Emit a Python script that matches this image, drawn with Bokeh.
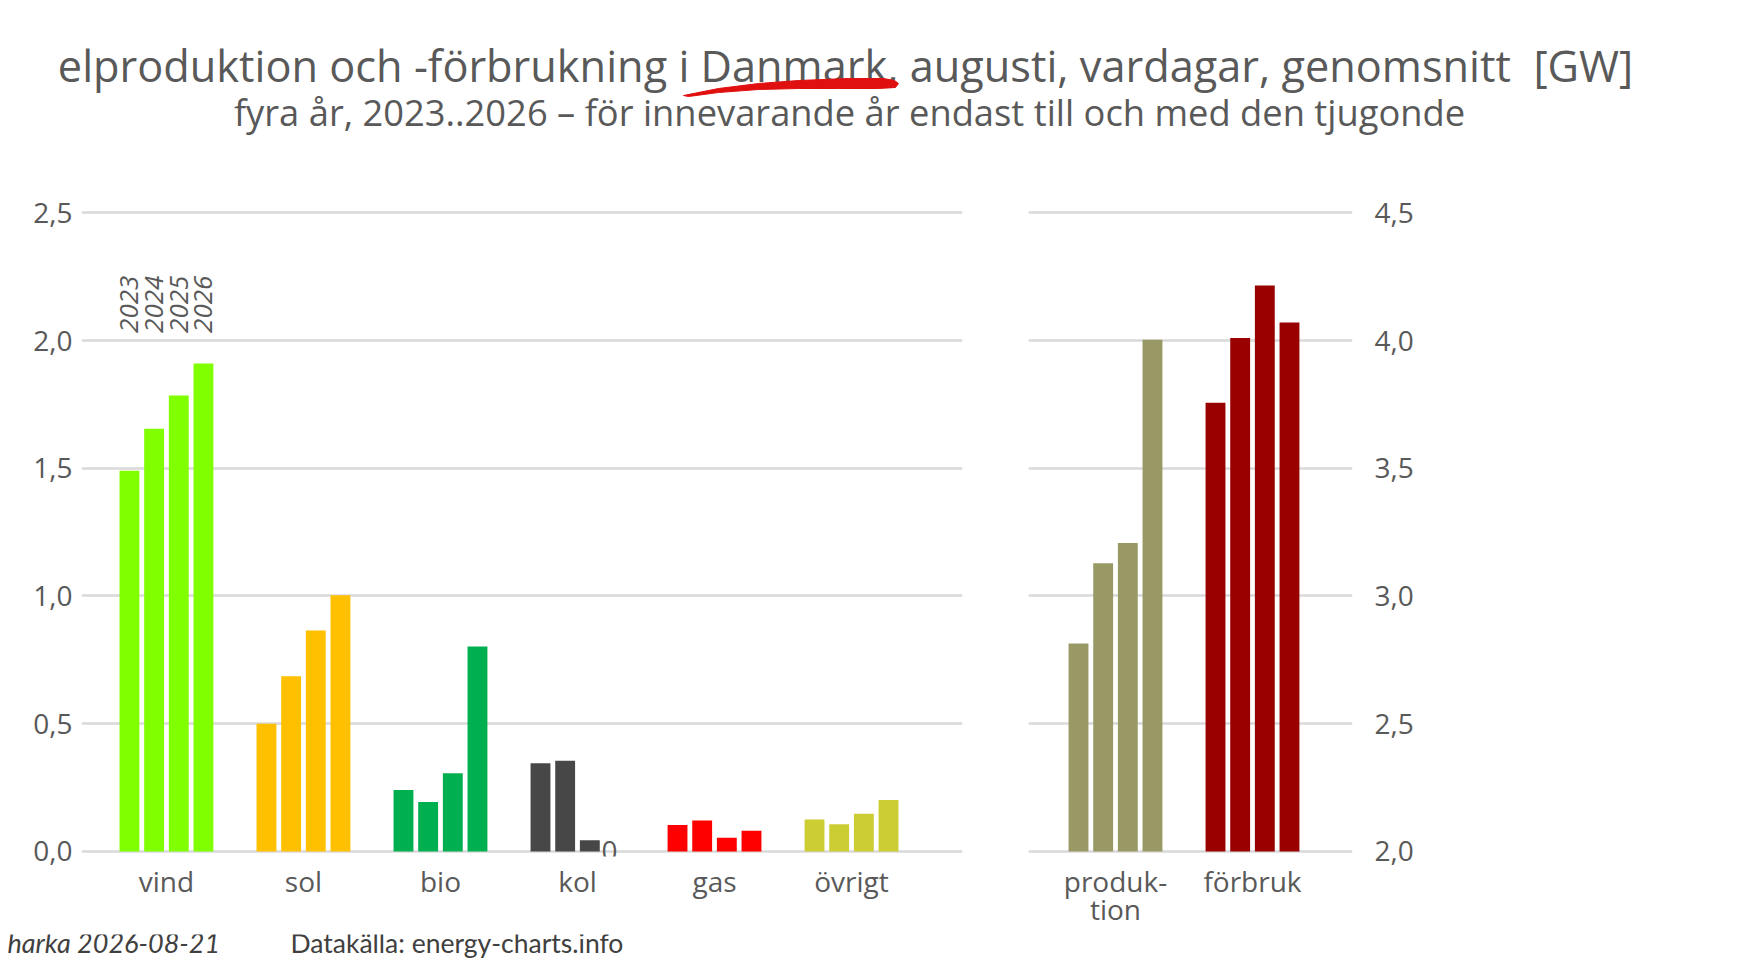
import math
from bokeh.plotting import figure
from bokeh.layouts import column, row
from bokeh.models import Range1d, FixedTicker, ColumnDataSource
from bokeh.embed import file_html
from bokeh.resources import INLINE

# ---------------- data ----------------
years = ["2023", "2024", "2025", "2026"]
sources = ["vind", "sol", "bio", "kol", "gas", "övrigt"]
vind = [1.490, 1.655, 1.785, 1.910]
sol = [0.500, 0.686, 0.865, 1.003]
bio = [0.240, 0.193, 0.306, 0.802]
kol = [0.345, 0.355, 0.044, 0.0]
gas = [0.103, 0.121, 0.053, 0.081]
ovrigt = [0.125, 0.106, 0.147, 0.201]
source_values = [vind, sol, bio, kol, gas, ovrigt]
source_colors = ["#80ff00", "#ffc000", "#00b050", "#474747", "#ff0000", "#cccc33"]

total_cats = ["produk-\ntion", "förbruk"]
produktion = [2.814, 3.128, 3.207, 4.003]
forbruk = [3.756, 4.010, 4.215, 4.071]
total_values = [produktion, forbruk]
total_colors = ["#999966", "#990000"]

left_ticks = [0.0, 0.5, 1.0, 1.5, 2.0, 2.5]
left_tick_labels = ["0,0", "0,5", "1,0", "1,5", "2,0", "2,5"]
right_ticks = [2.0, 2.5, 3.0, 3.5, 4.0, 4.5]
right_tick_labels = ["2,0", "2,5", "3,0", "3,5", "4,0", "4,5"]

title_text = "elproduktion och -förbrukning i Danmark, augusti, vardagar, genomsnitt\u00a0 [GW]"
subtitle_text = "fyra år, 2023..2026 – för innevarande år endast till och med den tjugonde"
footer_left = "harka 2026-08-21"
footer_right = "Datakälla: energy-charts.info"

# ---------------- style ----------------
TXT = "#595959"
GRID = "#d9d9d9"
FONT = "Open Sans"
FFONT = "Lato"
STEP = 0.18
BW = 0.145
offsets = [(j - 1.5) * STEP for j in range(len(years))]


def style_fig(p):
    p.outline_line_color = None
    p.background_fill_color = "white"
    p.border_fill_color = "white"


def style_axes(p):
    for ax in p.axis:
        ax.axis_line_color = None
        ax.major_tick_line_color = None
        ax.minor_tick_line_color = None
        ax.major_tick_in = 0
        ax.major_tick_out = 0
        ax.minor_tick_in = 0
        ax.minor_tick_out = 0
        ax.major_label_text_font = FONT
        ax.major_label_text_font_size = "28px"
        ax.major_label_text_color = TXT


TH = 140
MB_TOP = 57
FRAME_H = 659
MB_BOT = 78
ROW_H = MB_TOP + FRAME_H + MB_BOT
TW = 1734
FH = 35

# ---------------- left panel ----------------
pl = figure(width=992, height=ROW_H, x_range=Range1d(-0.62, 5.81), y_range=Range1d(-0.02, 2.56),
            min_border_left=81, min_border_right=30, min_border_top=MB_TOP, min_border_bottom=MB_BOT,
            output_backend="svg", toolbar_location=None, title=None)
style_fig(pl)
style_axes(pl)
pl.yaxis.ticker = FixedTicker(ticks=left_ticks)
pl.yaxis.major_label_overrides = {t: s for t, s in zip(left_ticks, left_tick_labels)}
pl.yaxis.major_label_standoff = 9
pl.xaxis.ticker = FixedTicker(ticks=list(range(len(sources))))
pl.xaxis.major_label_overrides = {i: s for i, s in enumerate(sources)}
pl.xaxis.major_label_standoff = 5
pl.xgrid.visible = False
pl.ygrid.ticker = FixedTicker(ticks=left_ticks)
pl.ygrid.grid_line_color = GRID
pl.ygrid.grid_line_width = 2.5

zx, zy = [], []
for i, (vals, col) in enumerate(zip(source_values, source_colors)):
    xs = [i + o for o in offsets]
    src = ColumnDataSource(dict(x=xs, top=vals))
    pl.vbar(x="x", top="top", bottom=0, width=BW, fill_color=col, line_color=None, source=src)
    for xx, v in zip(xs, vals):
        if v == 0:
            zx.append(xx)
            zy.append(v)

pl.text(x=zx, y=zy, text=["0"] * len(zx), text_align="center", text_baseline="middle",
        text_font={"value": FONT}, text_font_size="28px", text_color=TXT, x_offset=-5)

pl.text(x=[o for o in offsets], y=[left_ticks[4] + 0.03] * len(years), text=years,
        angle=math.pi / 2, text_align="left", text_baseline="middle",
        text_font={"value": FONT}, text_font_style="italic", text_font_size="26px",
        text_color=TXT)

# ---------------- right panel ----------------
pr = figure(width=742, height=ROW_H, x_range=Range1d(-0.635, 1.73), y_range=Range1d(1.98, 4.56),
            y_axis_location="right",
            min_border_left=36, min_border_right=382, min_border_top=MB_TOP, min_border_bottom=MB_BOT,
            output_backend="svg", toolbar_location=None, title=None)
style_fig(pr)
style_axes(pr)
pr.yaxis.ticker = FixedTicker(ticks=right_ticks)
pr.yaxis.major_label_overrides = {t: s for t, s in zip(right_ticks, right_tick_labels)}
pr.yaxis.major_label_standoff = 22
pr.yaxis.major_label_text_align = "left"
pr.xaxis.ticker = FixedTicker(ticks=list(range(len(total_cats))))
pr.xaxis.major_label_overrides = {i: s for i, s in enumerate(total_cats)}
pr.xaxis.major_label_standoff = 5
pr.xaxis.major_label_text_line_height = 0.76
pr.xgrid.visible = False
pr.ygrid.ticker = FixedTicker(ticks=right_ticks)
pr.ygrid.grid_line_color = GRID
pr.ygrid.grid_line_width = 2.5

for i, (vals, col) in enumerate(zip(total_values, total_colors)):
    xs = [i + o for o in offsets]
    src = ColumnDataSource(dict(x=xs, top=vals))
    pr.vbar(x="x", top="top", bottom=right_ticks[0], width=BW, fill_color=col, line_color=None, source=src)

# ---------------- title ----------------
pt = figure(width=TW, height=TH, x_range=Range1d(0, TW), y_range=Range1d(TH, 0),
            x_axis_location=None, y_axis_location=None, min_border=0,
            output_backend="svg", toolbar_location=None, title=None)
style_fig(pt)
pt.grid.visible = False
pt.text(x=[845], y=[65], text=[title_text], text_align="center", text_baseline="alphabetic",
        text_font={"value": FONT}, text_font_size="43.3px", text_color=TXT)
pt.text(x=[849], y=[111], text=[subtitle_text], text_align="center", text_baseline="alphabetic",
        text_font={"value": FONT}, text_font_size="36.3px", text_color=TXT)
sw_x = [683, 718, 758, 798, 848, 883, 894, 898, 895, 878, 838, 798, 758, 718, 688]
sw_y = [95, 88, 83, 80, 78, 78, 80, 83, 87, 88, 88, 88, 89, 92, 96]
pt.patch(sw_x, sw_y, fill_color="#e01010", line_color="#e01010", line_width=1)

# ---------------- footer ----------------
pf = figure(width=TW, height=FH, x_range=Range1d(0, TW), y_range=Range1d(FH, 0),
            x_axis_location=None, y_axis_location=None, min_border=0,
            output_backend="svg", toolbar_location=None, title=None)
style_fig(pf)
pf.grid.visible = False
pf.text(x=[7], y=[8], text=[footer_left], text_align="left", text_baseline="alphabetic",
        text_font={"value": FFONT}, text_font_style="italic", text_font_size="27px", text_color="#404040")
pf.text(x=[290], y=[8], text=[footer_right], text_align="left", text_baseline="alphabetic",
        text_font={"value": FFONT}, text_font_size="26.5px", text_color="#404040")

layout = column(pt, row(pl, pr), pf)
open("out.html", "w").write(file_html(layout, INLINE))
